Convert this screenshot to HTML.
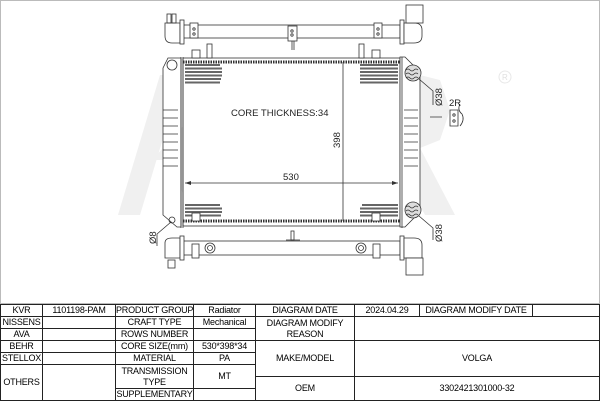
<!DOCTYPE html>
<html><head><meta charset="utf-8"><style>
body{margin:0;width:600px;height:402px;overflow:hidden;background:#fff;font-family:"Liberation Sans",sans-serif}
svg{position:absolute;left:0;top:0}
table{position:absolute;left:0;top:304px;width:600px;border-collapse:collapse;font-size:9px;table-layout:fixed}
td{border:1px solid #222;text-align:center;padding:0;line-height:11px;overflow:hidden;white-space:nowrap;letter-spacing:-0.2px}
</style></head><body>
<svg width="600" height="304" viewBox="0 0 600 304">
<rect x="0.5" y="0.5" width="599" height="303" fill="#fff" stroke="#bbb"/>
<g fill="#f0f0f0">
<polygon points="140,215 118,215 160,75 182,75"/>
<polygon points="152,160 230,75 262,75 175,160"/>
<polygon points="168,150 200,150 220,215 190,215"/>
<polygon points="253,215 280,215 345,75 320,75"/>
<polygon points="253,215 225,75 250,75 270,175"/>
<polygon points="330,215 355,215 375,150 390,150 425,215 455,215 420,148 440,140 450,110 440,80 420,75 375,75"/>
</g>
<circle cx="505" cy="77" r="6" fill="none" stroke="#e8e8e8"/>
<text x="502" y="80" font-size="8" fill="#e0e0e0">R</text>
<g fill="none" stroke="#333" stroke-width="0.8">
<rect x="183" y="25" width="217" height="13" fill="#fff"/>
<path d="M165,23 h15 v20 h-8 q-7,0 -7,-7 z" fill="#fff"/>
<rect x="180" y="20" width="4" height="24" fill="#fff"/>
<rect x="167" y="14" width="4" height="9"/><rect x="172" y="14" width="4" height="9"/>
<rect x="400" y="20" width="4" height="24" fill="#fff"/>
<path d="M404,23 h10 q8,0 8,7 v6 q0,7 -8,7 h-10 z" fill="#fff"/>
<rect x="406" y="5" width="17" height="18" fill="#fff"/>
<rect x="190" y="23" width="8" height="15" fill="#fff"/><rect x="288" y="26" width="9" height="15" fill="#fff"/><rect x="374" y="23" width="8" height="15" fill="#fff"/>
<line x1="292" y1="41" x2="292" y2="50"/><line x1="294" y1="41" x2="294" y2="50"/>
<circle cx="194" cy="29" r="1.2"/><circle cx="194" cy="34" r="1.2"/><circle cx="292" cy="31" r="1.2"/><circle cx="292" cy="35" r="1.2"/><circle cx="378" cy="29" r="1.2"/><circle cx="378" cy="34" r="1.2"/>
<rect x="183" y="58" width="217" height="168" fill="#fff"/>
<line x1="183" y1="62" x2="400" y2="62" stroke-dasharray="1.5 1" stroke-width="3"/>
<line x1="183" y1="221" x2="400" y2="221" stroke-dasharray="1.5 1" stroke-width="3"/>
<path d="M163,68 l5,-10 h13 v169 h-4 l-14,-12 z" fill="#fff"/>
<line x1="181" y1="57" x2="181" y2="228"/><line x1="183" y1="57" x2="183" y2="228"/>
<circle cx="172" cy="65" r="5"/><circle cx="172" cy="220" r="3"/>
<path d="M163,110 h15 M163,118 h15 M163,126 h15 M163,134 h15 M163,142 h15 M163,150 h15 M163,158 h15 M163,166 h15"/>
<path d="M400,57 h5 l15,15 v140 l-15,15 h-5 z" fill="#fff"/>
<line x1="402" y1="57" x2="402" y2="228"/>
<path d="M404,110 h14 M404,118 h14 M404,126 h14 M404,134 h14 M404,142 h14 M404,150 h14 M404,158 h14 M404,166 h14"/>
<rect x="183" y="241" width="217" height="14" fill="#fff"/>
<path d="M165,243 q0,-5 7,-5 h8 v20 h-15 z" fill="#fff"/>
<rect x="180" y="236" width="4" height="24" fill="#fff"/>
<rect x="168" y="260" width="7" height="8"/>
<rect x="400" y="236" width="4" height="24" fill="#fff"/>
<path d="M404,238 h10 q8,0 8,7 v13 h-18 z" fill="#fff"/>
<rect x="406" y="258" width="17" height="17" fill="#fff"/>
<rect x="192" y="244" width="7" height="14" fill="#fff"/><rect x="373" y="244" width="7" height="14" fill="#fff"/>
<circle cx="210" cy="248" r="5"/><circle cx="210" cy="248" r="2.5"/><circle cx="361" cy="248" r="5"/><circle cx="361" cy="248" r="2.5"/>
<rect x="291" y="231" width="3" height="9"/><line x1="286" y1="240" x2="300" y2="240"/>
<path d="M185,65h35M185,68.5h37M185,72h37M185,75.5h37M185,79h36M185,82.5h35 M360,65h38M360,68.5h38M360,72h38M360,75.5h38M360,79h38M360,82.5h38 M185,205h35M185,208.5h37M185,212h37M185,215.5h36 M362,205h36M360,208.5h38M360,212h38M360,215.5h38" stroke="#666" stroke-width="2"/>
<rect x="192" y="50" width="8" height="8" fill="#fff"/><rect x="372" y="50" width="8" height="8" fill="#fff"/>
<rect x="207" y="44" width="5" height="14" fill="#fff"/><rect x="359" y="44" width="5" height="14" fill="#fff"/>
<rect x="192" y="213" width="8" height="8" fill="#fff"/><rect x="372" y="213" width="8" height="8" fill="#fff"/>
<circle cx="413" cy="73" r="8" fill="#ddd"/><circle cx="413" cy="210" r="8" fill="#ddd"/>
<path d="M406,70 q2,-2 4,0 t4,0 t4,0 M406,74 q2,-2 4,0 t4,0 t4,0 M406,78 q2,-2 4,0 t4,0 t4,0 M406,207 q2,-2 4,0 t4,0 t4,0 M406,211 q2,-2 4,0 t4,0 t4,0 M406,215 q2,-2 4,0 t4,0 t4,0"/>
<path d="M419,79 l14,12 v14 M419,216 l14,12 v12"/>
<path d="M171,222 l-14,12 v12"/>
<line x1="343" y1="62" x2="343" y2="221"/>
<line x1="185" y1="183" x2="398" y2="183"/>
<path d="M430,117 h12 M450,110 h8 v16 h-8 z"/>
<path d="M460,104 q-3,6 2,10 q3,6 -2,12"/>
<circle cx="454" cy="115" r="1.2"/><circle cx="454" cy="121" r="1.2"/>
</g>
<polygon points="185,183 191,181 191,185" fill="#333"/><polygon points="398,183 392,181 392,185" fill="#333"/>
<g font-size="9.5" fill="#222">
<text x="231" y="116">CORE THICKNESS:34</text>
<text x="283" y="180">530</text>
<text x="340" y="148" transform="rotate(-90 340 148)">398</text>
<text x="442" y="106" transform="rotate(-90 442 106)">Ø38</text>
<text x="442" y="242" transform="rotate(-90 442 242)">Ø38</text>
<text x="156" y="244" transform="rotate(-90 156 244)">Ø8</text>
<text x="449" y="106">2R</text>
</g>
</svg>
<table>
<colgroup><col style="width:42px"><col style="width:73px"><col style="width:78px"><col style="width:62px"><col style="width:99px"><col style="width:65px"><col style="width:113px"><col></colgroup>
<tr style="height:12px"><td>KVR</td><td>1101198-PAM</td><td>PRODUCT GROUP</td><td>Radiator</td><td>DIAGRAM DATE</td><td>2024.04.29</td><td>DIAGRAM MODIFY DATE</td><td></td></tr>
<tr style="height:12px"><td>NISSENS</td><td></td><td>CRAFT TYPE</td><td>Mechanical</td><td rowspan="2" style="white-space:normal">DIAGRAM MODIFY REASON</td><td colspan="3" rowspan="2"></td></tr>
<tr style="height:12px"><td>AVA</td><td></td><td>ROWS NUMBER</td><td></td></tr>
<tr style="height:12px"><td>BEHR</td><td></td><td>CORE SIZE(mm)</td><td>530*398*34</td><td rowspan="3">MAKE/MODEL</td><td colspan="3" rowspan="3">VOLGA</td></tr>
<tr style="height:12px"><td>STELLOX</td><td></td><td>MATERIAL</td><td>PA</td></tr>
<tr style="height:12px"><td rowspan="3">OTHERS</td><td rowspan="3"></td><td rowspan="2" style="white-space:normal">TRANSMISSION TYPE</td><td rowspan="2">MT</td></tr>
<tr style="height:12px"><td rowspan="2">OEM</td><td colspan="3" rowspan="2">3302421301000-32</td></tr>
<tr style="height:12px"><td>SUPPLEMENTARY</td><td></td></tr>
</table>
</body></html>
